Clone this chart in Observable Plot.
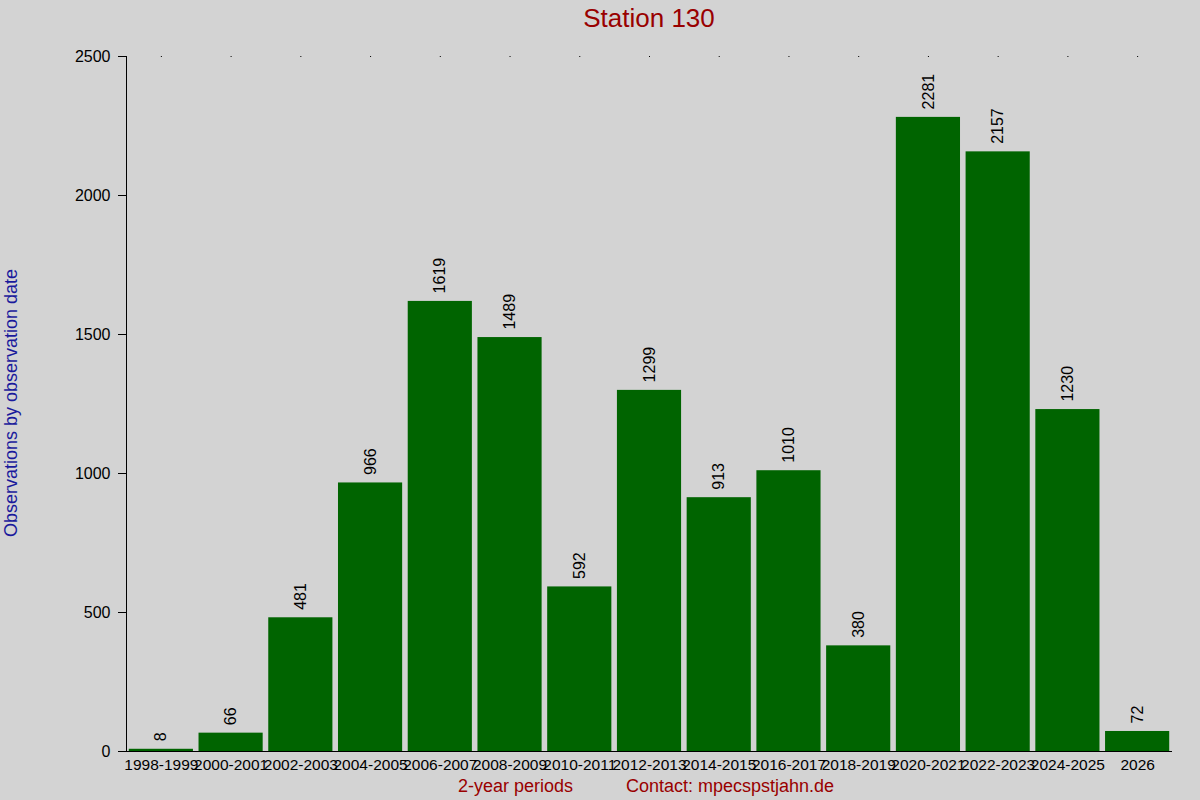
<!DOCTYPE html>
<html>
<head>
<meta charset="utf-8">
<script src="https://cdn.jsdelivr.net/npm/d3@7"></script>
<script src="https://cdn.jsdelivr.net/npm/@observablehq/plot@0.6"></script>
<style>
  html, body { margin: 0; padding: 0; background: #d3d3d3; }
  #wrap { position: relative; width: 1200px; height: 800px; background: #d3d3d3; font-family: "Liberation Sans", Arial, sans-serif; }
  .lbl { position: absolute; white-space: nowrap; }
  #title { left: 649px; top: 18px; transform: translate(-50%, -50%); color: #990000; font-size: 26px; }
  #ylab { left: 11px; top: 403px; transform: translate(-50%, -50%) rotate(-90deg); color: #1a1a9c; font-size: 18px; }
  #xlab { left: 458px; top: 786px; transform: translate(0, -50%); color: #990000; font-size: 18px; }
  #contact { left: 626px; top: 786px; transform: translate(0, -50%); color: #990000; font-size: 18px; }
  #chart { position: absolute; left: 0; top: 0; }
</style>
</head>
<body>
<div id="wrap">
  <div id="chart"></div>
  <div class="lbl" id="title">Station 130</div>
  <div class="lbl" id="ylab">Observations by observation date</div>
  <div class="lbl" id="xlab">2-year periods</div>
  <div class="lbl" id="contact">Contact: mpecspstjahn.de</div>
</div>
<script>
const periods = ["1998-1999","2000-2001","2002-2003","2004-2005","2006-2007","2008-2009","2010-2011","2012-2013","2014-2015","2016-2017","2018-2019","2020-2021","2022-2023","2024-2025","2026"];
const counts = [8, 66, 481, 966, 1619, 1489, 592, 1299, 913, 1010, 380, 2281, 2157, 1230, 72];
const yTicks = [0, 500, 1000, 1500, 2000, 2500];

const data = periods.map((p, i) => ({period: p, count: counts[i]}));

const chart = Plot.plot({
  width: 1200,
  height: 800,
  marginLeft: 126,
  marginRight: 28,
  marginTop: 56,
  marginBottom: 49,
  style: {background: "#d3d3d3", fontFamily: "Liberation Sans, Arial, sans-serif", color: "#000", overflow: "visible"},
  x: {domain: periods, paddingInner: 0.08, paddingOuter: 0.04, round: false, label: null},
  y: {domain: [0, 2500], label: null},
  marks: [
    Plot.barY(data, {x: "period", y: "count", fill: "#006400"}),
    Plot.text(data, {x: "period", y: "count", text: d => String(d.count), rotate: -90, textAnchor: "start", lineAnchor: "middle", dy: -8, fontSize: 16, fill: "#000"}),
    Plot.axisY({ticks: yTicks, tickSize: 8, tickPadding: 8, fontSize: 16, tickFormat: d => String(d), label: null, stroke: "#000"}),
    Plot.frame({anchor: "left", stroke: "#000"}),
    Plot.axisX({tickSize: 0, tickPadding: 7, fontSize: 15.5, label: null}),
    Plot.axisX({anchor: "top", tickSize: 1, tickFormat: null, label: null, stroke: "#000"}),
    Plot.ruleY([0], {stroke: "#000"})
  ]
});
document.getElementById("chart").appendChild(chart);
</script>
</body>
</html>
